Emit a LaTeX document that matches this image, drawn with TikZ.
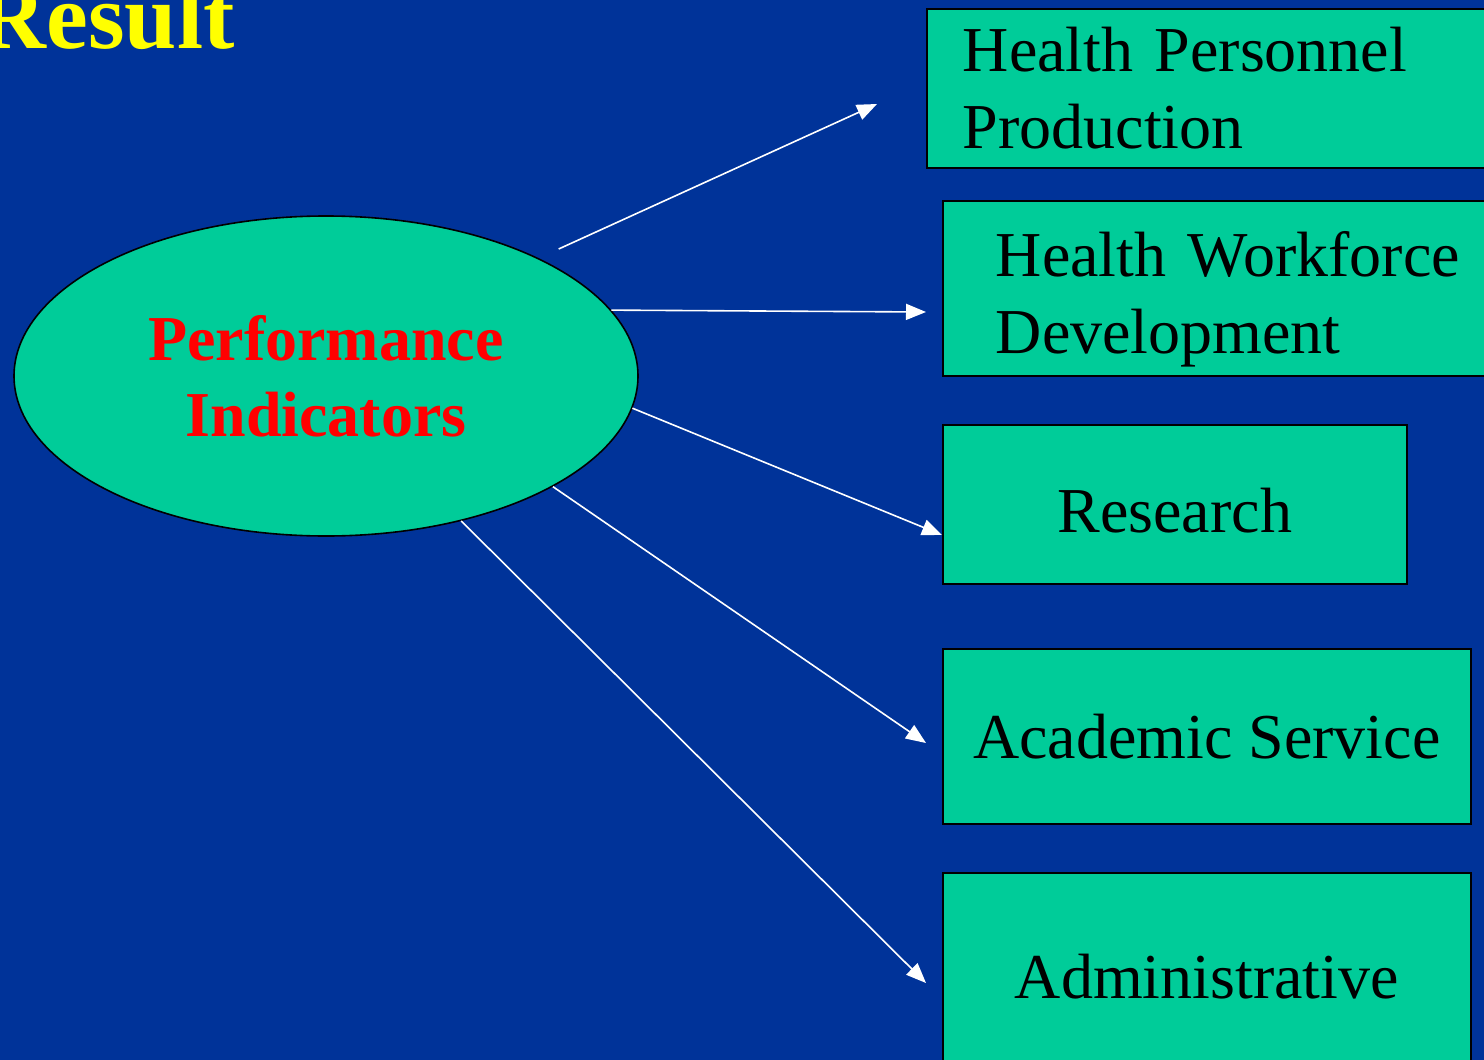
\documentclass[tikz,border=0pt]{standalone}
\usepackage{fontspec}
\setmainfont{Liberation Serif}
\usetikzlibrary{arrows.meta,shapes.geometric}

\definecolor{slideblue}{HTML}{003399}
\definecolor{boxgreen}{HTML}{00CC99}
\definecolor{titleyellow}{HTML}{FFFF00}

\begin{document}
\begin{tikzpicture}[x=0.5pt,y=-0.5pt,
    arr/.style={-{Triangle[length=10pt,width=8pt]},draw=white,line width=0.8pt},
    box/.style={draw=black,fill=boxgreen,line width=0.8pt,anchor=north west,inner ysep=0pt,font=\fontsize{32}{38.5}\selectfont},
    semithick]

    \fill[slideblue] (0,0) rectangle (1484,1060);
    \clip (0,0) rectangle (1484,1060);
    \useasboundingbox (0,0) rectangle (1484,1060);

    \node[anchor=base west,inner sep=0pt,text=titleyellow,font=\fontsize{47}{54}\selectfont\bfseries] (title) at (-22,48) {Result};

    \node[ellipse,draw=black,fill=boxgreen,line width=0.8pt,minimum width=312pt,minimum height=160pt,
          text=red,align=center,font=\fontsize{32}{38}\selectfont\bfseries] (pi) at (326,376) {Performance\\Indicators};

    \node[box,minimum height=79.5pt,text width=251pt,inner xsep=18pt,align=left] (hpp) at (926,8) {Health Personnel\\Production};
    \node[box,minimum height=87.5pt,text width=252.5pt,inner xsep=26.5pt,align=left] (hwd) at (942,200) {\rule{0pt}{34pt}Health Workforce\\Development};
    \node[box,minimum height=79.5pt,minimum width=232pt,text height=28pt,text depth=0pt,align=center] (res) at (942,424) {Research};
    \node[box,minimum height=87.5pt,minimum width=264pt,align=center] (acs) at (942,648) {Academic Service};
    \node[box,minimum height=104pt,minimum width=264pt,align=center] (adm) at (942,872) {Administrative};

    % arrow ends
    \coordinate (e1) at (877,104);
    \coordinate (e2) at (926,312);
    \coordinate (e3) at (942,535);
    \coordinate (e4) at (926,743);
    \coordinate (e5) at (926,983);

    \draw[arr,shorten <=11pt] (pi.29) -- (e1);
    \draw[arr] (pi.13) -- (e2);
    \draw[arr] (pi.-6) -- (e3);
    \draw[arr] (pi.-26) -- (e4);
    \draw[arr] (pi.-47) -- (e5);
\end{tikzpicture}
\end{document}
